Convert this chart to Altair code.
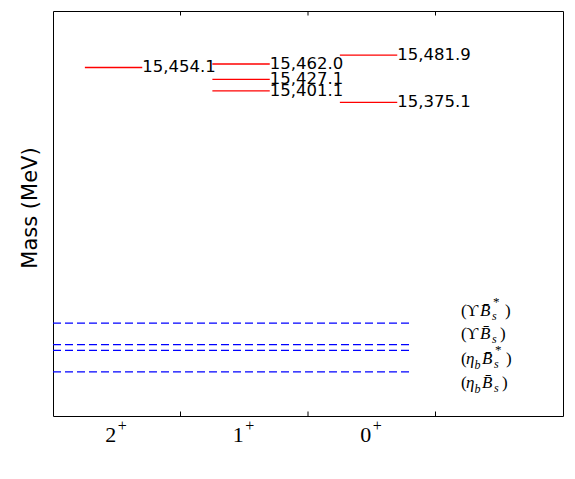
import altair as alt
import pandas as pd

# ---- data ----
state_digits = ["2", "1", "0"]
state_parity = ["+", "+", "+"]

level_state = ["2", "1", "1", "1", "0", "0"]
level_mass = [15454.1, 15462.0, 15427.1, 15401.1, 15481.9, 15375.1]

threshold_label = ["ΥB̄s*", "ΥB̄s", "ηbB̄s*", "ηbB̄s"]
threshold_mass = [14875.7, 14827.2, 14814.1, 14765.6]

tick_values = [1, 2, 3]
y_title = "Mass (MeV)"

# ---- tables ----
levels = pd.DataFrame({
    "idx": [state_digits.index(s) for s in level_state],
    "mass": level_mass,
})
levels["x0"] = levels["idx"] + 0.25
levels["x1"] = levels["idx"] + 0.7
thresholds = pd.DataFrame({"name": threshold_label, "mass": threshold_mass})
thresholds["x0"] = 0.0
thresholds["x1"] = 2.8
thresholds["xl"] = 3.2
states = pd.DataFrame({
    "xc": [i + 0.5 for i in range(len(state_digits))],
    "digit": state_digits,
    "parity": state_parity,
})
ticks = pd.DataFrame({"t": tick_values})
titles = pd.DataFrame({"txt": [y_title]})

lo = min(threshold_mass) - 100
hi = max(level_mass) + 100
xs = alt.Scale(domain=[0, 4], nice=False, zero=False)
ys = alt.Scale(domain=[lo, hi], nice=False, zero=False)


def X(f):
    return alt.X(f, scale=xs, axis=None)


def Y(f):
    return alt.Y(f, scale=ys, axis=None)


lines = alt.Chart(levels).mark_rule(strokeWidth=1.3).encode(
    x=X("x0:Q"), x2="x1:Q", y=Y("mass:Q"), color=alt.value("#ff0000"),
)

line_labels = alt.Chart(levels).mark_text(
    align="left", baseline="middle", font="DejaVu Sans", fontSize=16.5, color="black"
).encode(
    x=X("x1:Q"), y=Y("mass:Q"), text=alt.Text("mass:Q", format=",.1f"),
)

thr = alt.Chart(thresholds).mark_rule(strokeWidth=1.3, strokeDash=[8, 4]).encode(
    x=X("x0:Q"), x2="x1:Q", y=Y("mass:Q"), color=alt.value("#0000ff"),
)

# typographic pieces of the threshold labels (style only), one text mark each
BBAR = "B\u0304"
row_shift = [-12, -11, 9, 11]
SERIF = "Liberation Serif, DejaVu Serif"
BIG, SMALL = 17, 12
label_layers = []
for i, (name, m) in enumerate(zip(threshold_label, threshold_mass)):
    star = name.endswith("*")
    if name.startswith("Υ"):
        parts = [("(", 0, 0, BIG, "normal"), ("ϒ", 5, 0, BIG, "normal"),
                 (BBAR, 19, 0, BIG, "italic"), ("s", 31, 5, SMALL, "italic")]
        close = 44 if star else 39
    else:
        parts = [("(", 0, 0, BIG, "normal"), ("η", 5, 0, BIG, "italic"),
                 ("b", 13.5, 6, SMALL, "italic"), (BBAR, 21, 0, BIG, "italic"),
                 ("s", 33, 5, SMALL, "italic")]
        close = 45 if star else 41
    if star:
        parts.append(("*", parts[-1][1] + 1, -9, 13, "normal"))
    parts.append((")", close, 0, BIG, "normal"))
    sub = thresholds.iloc[[i]]
    for txt, dx, dy, size, style in parts:
        label_layers.append(
            alt.Chart(sub).mark_text(
                align="left", baseline="middle", font=SERIF, color="black",
                dx=dx, dy=dy + row_shift[i], fontSize=size, fontStyle=style,
            ).encode(
                x=X("xl:Q"), y=Y("mass:Q"), text=alt.value(txt),
            )
        )

tick_lab = alt.Chart(states).mark_text(
    align="center", baseline="middle", font="Liberation Serif", fontSize=22,
    color="black", dx=-6
).encode(x=X("xc:Q"), y=alt.value(423.5), text="digit:N")

tick_sup = alt.Chart(states).mark_text(
    align="center", baseline="middle", font="Liberation Serif", fontSize=16,
    color="black", dx=5.5, dy=-9
).encode(x=X("xc:Q"), y=alt.value(423.5), text="parity:N")

tick_bottom = alt.Chart(ticks).mark_rule(color="black", strokeWidth=1).encode(
    x=X("t:Q"), y=alt.value(405), y2=alt.value(400.5))
tick_top = alt.Chart(ticks).mark_rule(color="black", strokeWidth=1).encode(
    x=X("t:Q"), y=alt.value(0), y2=alt.value(4.5))

ytitle = alt.Chart(titles).mark_text(
    align="center", baseline="middle", font="DejaVu Sans", fontSize=21,
    color="black", angle=270
).encode(x=alt.value(-22), y=alt.value(197), text="txt:N")

chart = alt.layer(
    thr, lines, line_labels, *label_layers, tick_lab, tick_sup, tick_bottom,
    tick_top, ytitle
).properties(
    width=510, height=405,
    autosize=alt.AutoSizeParams(type="none"),
    padding={"left": 45, "top": 3, "right": 4, "bottom": 50},
).configure_view(stroke="black", strokeWidth=1)

chart.save("out.html", embed_options={"renderer": "svg", "actions": False})
